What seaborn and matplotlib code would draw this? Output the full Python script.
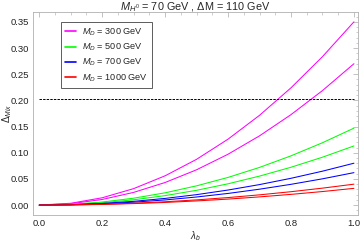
import numpy as np
import pandas as pd
import matplotlib
matplotlib.use("Agg")
import matplotlib.pyplot as plt
import seaborn as sns
from matplotlib.ticker import MultipleLocator

# values (lambda_b grid, two curves per M_D)
lam = [0.0, 0.1, 0.2, 0.3, 0.4, 0.5, 0.6, 0.7, 0.8, 0.9, 1.0]

md300_hi = [0, .0035, .0140, .0315, .0560, .0875, .1260, .1715, .2240, .2835, .350]
md300_lo = [0, .0027, .0108, .0243, .0432, .0675, .0972, .1323, .1728, .2187, .270]
md500_hi = [0, .0015, .0059, .0132, .0235, .0368, .0529, .0720, .0941, .1191, .147]
md500_lo = [0, .0011, .0045, .0102, .0181, .0283, .0407, .0554, .0723, .0915, .113]
md700_hi = [0, .0008, .0032, .0072, .0128, .0200, .0288, .0392, .0512, .0648, .080]
md700_lo = [0, .0006, .0025, .0056, .0099, .0155, .0223, .0304, .0397, .0502, .062]
md1000_hi = [0, .0004, .0016, .0036, .0064, .0100, .0144, .0196, .0256, .0324, .040]
md1000_lo = [0, .0003, .0013, .0029, .0051, .0080, .0115, .0157, .0205, .0259, .032]

labels = ["$M_D$ = 300 GeV", "$M_D$ = 500 GeV", "$M_D$ = 700 GeV", "$M_D$ = 1000 GeV"]
colors = ["#ff00ff", "#00ff00", "#0000ff", "#ff0000"]
pairs = [(md300_hi, md300_lo), (md500_hi, md500_lo),
         (md700_hi, md700_lo), (md1000_hi, md1000_lo)]
dash_level = 0.203

sns.set_style("white")
plt.rcParams['font.family'] = ['Liberation Sans', 'DejaVu Sans']
plt.rcParams['mathtext.fontset'] = 'custom'
plt.rcParams['mathtext.rm'] = 'Liberation Sans'
plt.rcParams['mathtext.it'] = 'Liberation Sans:italic'

fig = plt.figure(figsize=(3.6, 2.43), dpi=100)
ax = fig.add_axes([0.0925, 0.115, 0.902, 0.836])

for lab, col, (hi, lo) in zip(labels, colors, pairs):
    sns.lineplot(x=lam, y=hi, color=col, lw=0.75, label=lab, ax=ax)
    sns.lineplot(x=lam, y=lo, color=col, lw=0.75, ax=ax)

ax.hlines(dash_level, lam[0], lam[-1], colors="black", linestyles=(0, (2.5, 1.2)), lw=0.7)

ax.set_xlim(-0.019, 1.013)
ax.set_ylim(-0.019, 0.369)
ax.xaxis.set_major_locator(MultipleLocator(0.2))
ax.xaxis.set_minor_locator(MultipleLocator(0.05))
ax.yaxis.set_major_locator(MultipleLocator(0.05))
ax.yaxis.set_minor_locator(MultipleLocator(0.01))
ax.xaxis.set_major_formatter(matplotlib.ticker.FormatStrFormatter('%.1f'))
ax.yaxis.set_major_formatter(matplotlib.ticker.FormatStrFormatter('%.2f'))
ax.tick_params(which='both', direction='in', top=True, right=True, color='#aaaaaa',
               labelsize=6.8, labelcolor='#222222', pad=3)
ax.tick_params(which='major', length=3.5, width=0.5)
ax.tick_params(which='minor', length=1.8, width=0.4)
for s in ax.spines.values():
    s.set_color('#b0b0b0')
    s.set_linewidth(0.6)

ax.set_xlabel(r"$\lambda_b$", fontsize=7, labelpad=1)
ax.set_ylabel(r"$\Delta_{Mix}$", fontsize=7)
ax.yaxis.set_label_coords(-0.06, 0.5)
ax.set_title(r"$M_{H^0}$ = 70 GeV , ΔM = 110 GeV", fontsize=7.8, pad=1)

leg = ax.legend(loc='upper left', bbox_to_anchor=(0.085, 0.95), fontsize=6.6,
                frameon=True, fancybox=False, handlelength=1.2, handletextpad=0.6,
                borderpad=0.5, labelspacing=0.4, borderaxespad=0)
leg.get_frame().set_edgecolor('#333333')
leg.get_frame().set_linewidth(0.7)
for h, col in zip(leg.get_lines(), colors):
    h.set_color(col)
    h.set_linewidth(1.2)

fig.savefig("out.png", dpi=100)
